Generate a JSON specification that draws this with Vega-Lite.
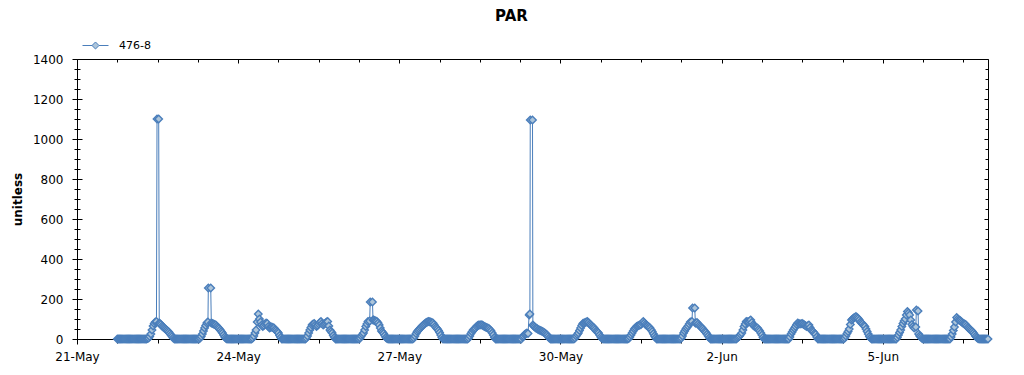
{
  "$schema": "https://vega.github.io/schema/vega-lite/v6.json",
  "width": 911,
  "height": 280,
  "autosize": {"type": "none"},
  "padding": {"left": 77, "top": 59, "right": 36, "bottom": 36},
  "background": "white",
  "title": {"text": "PAR", "font": "DejaVu Sans", "fontSize": 15, "fontWeight": "bold", "color": "#000000", "anchor": "middle", "dx": -21, "offset": 8},
  "config": {
    "view": {"stroke": null},
    "axis": {"labelFont": "DejaVu Sans", "labelFontSize": 12, "labelColor": "#000000", "domainColor": "#000000", "tickColor": "#000000", "grid": false, "titleFont": "DejaVu Sans", "titleColor": "#000000"}
  },
  "data": {"values": [
    {"t":"2023-05-21T18:00","v":0},{"t":"2023-05-21T18:30","v":0},{"t":"2023-05-21T19:00","v":0},{"t":"2023-05-21T19:30","v":0},{"t":"2023-05-21T20:00","v":0},{"t":"2023-05-21T20:30","v":0},{"t":"2023-05-21T21:00","v":0},{"t":"2023-05-21T21:30","v":0},{"t":"2023-05-21T22:00","v":0},{"t":"2023-05-21T22:30","v":0},{"t":"2023-05-21T23:00","v":0},{"t":"2023-05-21T23:30","v":0},
    {"t":"2023-05-22T00:00","v":0},{"t":"2023-05-22T00:30","v":0},{"t":"2023-05-22T01:00","v":0},{"t":"2023-05-22T01:30","v":0},{"t":"2023-05-22T02:00","v":0},{"t":"2023-05-22T02:30","v":0},{"t":"2023-05-22T03:00","v":0},{"t":"2023-05-22T03:30","v":0},{"t":"2023-05-22T04:00","v":0},{"t":"2023-05-22T04:30","v":0},{"t":"2023-05-22T05:00","v":0},{"t":"2023-05-22T05:30","v":0},{"t":"2023-05-22T06:00","v":0},{"t":"2023-05-22T06:30","v":0},{"t":"2023-05-22T07:00","v":0},
    {"t":"2023-05-22T07:30","v":2},{"t":"2023-05-22T08:00","v":5},{"t":"2023-05-22T08:30","v":12},{"t":"2023-05-22T09:00","v":25},{"t":"2023-05-22T09:30","v":45},{"t":"2023-05-22T10:00","v":65},{"t":"2023-05-22T10:30","v":78},{"t":"2023-05-22T11:00","v":85},{"t":"2023-05-22T11:30","v":88},{"t":"2023-05-22T11:45","v":1100},{"t":"2023-05-22T12:30","v":1100},{"t":"2023-05-22T12:45","v":80},{"t":"2023-05-22T13:00","v":78},{"t":"2023-05-22T13:30","v":72},{"t":"2023-05-22T14:00","v":65},{"t":"2023-05-22T14:30","v":60},{"t":"2023-05-22T15:00","v":55},{"t":"2023-05-22T15:30","v":50},{"t":"2023-05-22T16:00","v":45},{"t":"2023-05-22T16:30","v":40},{"t":"2023-05-22T17:00","v":35},{"t":"2023-05-22T17:30","v":28},{"t":"2023-05-22T18:00","v":20},{"t":"2023-05-22T18:30","v":12},{"t":"2023-05-22T19:00","v":5},
    {"t":"2023-05-22T19:30","v":0},{"t":"2023-05-22T20:00","v":0},{"t":"2023-05-22T20:30","v":0},{"t":"2023-05-22T21:00","v":0},{"t":"2023-05-22T21:30","v":0},{"t":"2023-05-22T22:00","v":0},{"t":"2023-05-22T22:30","v":0},{"t":"2023-05-22T23:00","v":0},{"t":"2023-05-22T23:30","v":0},
    {"t":"2023-05-23T00:00","v":0},{"t":"2023-05-23T00:30","v":0},{"t":"2023-05-23T01:00","v":0},{"t":"2023-05-23T01:30","v":0},{"t":"2023-05-23T02:00","v":0},{"t":"2023-05-23T02:30","v":0},{"t":"2023-05-23T03:00","v":0},{"t":"2023-05-23T03:30","v":0},{"t":"2023-05-23T04:00","v":0},{"t":"2023-05-23T04:30","v":0},{"t":"2023-05-23T05:00","v":0},{"t":"2023-05-23T05:30","v":0},{"t":"2023-05-23T06:00","v":0},{"t":"2023-05-23T06:30","v":0},
    {"t":"2023-05-23T07:00","v":5},{"t":"2023-05-23T07:30","v":12},{"t":"2023-05-23T08:00","v":25},{"t":"2023-05-23T08:30","v":40},{"t":"2023-05-23T09:00","v":55},{"t":"2023-05-23T09:30","v":68},{"t":"2023-05-23T10:00","v":80},{"t":"2023-05-23T10:30","v":85},{"t":"2023-05-23T10:40","v":255},{"t":"2023-05-23T11:45","v":255},{"t":"2023-05-23T12:00","v":80},{"t":"2023-05-23T12:30","v":78},{"t":"2023-05-23T13:00","v":75},{"t":"2023-05-23T13:30","v":72},{"t":"2023-05-23T14:00","v":70},{"t":"2023-05-23T14:30","v":64},{"t":"2023-05-23T15:00","v":58},{"t":"2023-05-23T15:30","v":52},{"t":"2023-05-23T16:00","v":45},{"t":"2023-05-23T16:30","v":38},{"t":"2023-05-23T17:00","v":30},{"t":"2023-05-23T17:30","v":20},{"t":"2023-05-23T18:00","v":10},{"t":"2023-05-23T18:30","v":4},
    {"t":"2023-05-23T19:00","v":0},{"t":"2023-05-23T19:30","v":0},{"t":"2023-05-23T20:00","v":0},{"t":"2023-05-23T20:30","v":0},{"t":"2023-05-23T21:00","v":0},{"t":"2023-05-23T21:30","v":0},{"t":"2023-05-23T22:00","v":0},{"t":"2023-05-23T22:30","v":0},{"t":"2023-05-23T23:00","v":0},{"t":"2023-05-23T23:30","v":0},
    {"t":"2023-05-24T00:00","v":0},{"t":"2023-05-24T00:30","v":0},{"t":"2023-05-24T01:00","v":0},{"t":"2023-05-24T01:30","v":0},{"t":"2023-05-24T02:00","v":0},{"t":"2023-05-24T02:30","v":0},{"t":"2023-05-24T03:00","v":0},{"t":"2023-05-24T03:30","v":0},{"t":"2023-05-24T04:00","v":0},{"t":"2023-05-24T04:30","v":0},{"t":"2023-05-24T05:00","v":0},{"t":"2023-05-24T05:30","v":0},{"t":"2023-05-24T06:00","v":0},
    {"t":"2023-05-24T06:30","v":5},{"t":"2023-05-24T07:00","v":15},{"t":"2023-05-24T07:30","v":30},{"t":"2023-05-24T08:00","v":45},{"t":"2023-05-24T08:30","v":85},{"t":"2023-05-24T09:00","v":125},{"t":"2023-05-24T09:30","v":100},{"t":"2023-05-24T10:00","v":85},{"t":"2023-05-24T10:30","v":70},{"t":"2023-05-24T11:00","v":62},{"t":"2023-05-24T11:30","v":68},{"t":"2023-05-24T12:00","v":75},{"t":"2023-05-24T12:30","v":80},{"t":"2023-05-24T13:00","v":78},{"t":"2023-05-24T13:30","v":62},{"t":"2023-05-24T14:00","v":55},{"t":"2023-05-24T14:30","v":58},{"t":"2023-05-24T15:00","v":60},{"t":"2023-05-24T15:30","v":58},{"t":"2023-05-24T16:00","v":55},{"t":"2023-05-24T16:30","v":48},{"t":"2023-05-24T17:00","v":42},{"t":"2023-05-24T17:30","v":36},{"t":"2023-05-24T18:00","v":30},{"t":"2023-05-24T18:30","v":18},{"t":"2023-05-24T19:00","v":8},
    {"t":"2023-05-24T19:30","v":0},{"t":"2023-05-24T20:00","v":0},{"t":"2023-05-24T20:30","v":0},{"t":"2023-05-24T21:00","v":0},{"t":"2023-05-24T21:30","v":0},{"t":"2023-05-24T22:00","v":0},{"t":"2023-05-24T22:30","v":0},{"t":"2023-05-24T23:00","v":0},{"t":"2023-05-24T23:30","v":0},
    {"t":"2023-05-25T00:00","v":0},{"t":"2023-05-25T00:30","v":0},{"t":"2023-05-25T01:00","v":0},{"t":"2023-05-25T01:30","v":0},{"t":"2023-05-25T02:00","v":0},{"t":"2023-05-25T02:30","v":0},{"t":"2023-05-25T03:00","v":0},{"t":"2023-05-25T03:30","v":0},{"t":"2023-05-25T04:00","v":0},{"t":"2023-05-25T04:30","v":0},{"t":"2023-05-25T05:00","v":0},{"t":"2023-05-25T05:30","v":0},{"t":"2023-05-25T06:00","v":0},
    {"t":"2023-05-25T06:30","v":5},{"t":"2023-05-25T07:00","v":15},{"t":"2023-05-25T07:30","v":30},{"t":"2023-05-25T08:00","v":45},{"t":"2023-05-25T08:30","v":58},{"t":"2023-05-25T09:00","v":70},{"t":"2023-05-25T09:30","v":75},{"t":"2023-05-25T10:00","v":78},{"t":"2023-05-25T10:30","v":70},{"t":"2023-05-25T11:00","v":62},{"t":"2023-05-25T11:30","v":68},{"t":"2023-05-25T12:00","v":75},{"t":"2023-05-25T12:30","v":82},{"t":"2023-05-25T13:00","v":87},{"t":"2023-05-25T13:30","v":78},{"t":"2023-05-25T14:00","v":70},{"t":"2023-05-25T14:30","v":75},{"t":"2023-05-25T15:00","v":80},{"t":"2023-05-25T15:30","v":85},{"t":"2023-05-25T16:00","v":87},{"t":"2023-05-25T16:30","v":65},{"t":"2023-05-25T17:00","v":45},{"t":"2023-05-25T17:30","v":38},{"t":"2023-05-25T18:00","v":30},{"t":"2023-05-25T18:30","v":18},{"t":"2023-05-25T19:00","v":8},
    {"t":"2023-05-25T19:30","v":0},{"t":"2023-05-25T20:00","v":0},{"t":"2023-05-25T20:30","v":0},{"t":"2023-05-25T21:00","v":0},{"t":"2023-05-25T21:30","v":0},{"t":"2023-05-25T22:00","v":0},{"t":"2023-05-25T22:30","v":0},{"t":"2023-05-25T23:00","v":0},{"t":"2023-05-25T23:30","v":0},
    {"t":"2023-05-26T00:00","v":0},{"t":"2023-05-26T00:30","v":0},{"t":"2023-05-26T01:00","v":0},{"t":"2023-05-26T01:30","v":0},{"t":"2023-05-26T02:00","v":0},{"t":"2023-05-26T02:30","v":0},{"t":"2023-05-26T03:00","v":0},{"t":"2023-05-26T03:30","v":0},{"t":"2023-05-26T04:00","v":0},{"t":"2023-05-26T04:30","v":0},{"t":"2023-05-26T05:00","v":0},{"t":"2023-05-26T05:30","v":0},{"t":"2023-05-26T06:00","v":0},
    {"t":"2023-05-26T06:30","v":5},{"t":"2023-05-26T07:00","v":15},{"t":"2023-05-26T07:30","v":22},{"t":"2023-05-26T08:00","v":30},{"t":"2023-05-26T08:30","v":45},{"t":"2023-05-26T09:00","v":62},{"t":"2023-05-26T09:30","v":75},{"t":"2023-05-26T10:00","v":87},{"t":"2023-05-26T10:45","v":90},{"t":"2023-05-26T11:00","v":185},{"t":"2023-05-26T12:00","v":185},{"t":"2023-05-26T12:15","v":95},{"t":"2023-05-26T12:30","v":95},{"t":"2023-05-26T13:00","v":92},{"t":"2023-05-26T13:30","v":90},{"t":"2023-05-26T14:00","v":87},{"t":"2023-05-26T14:30","v":80},{"t":"2023-05-26T15:00","v":70},{"t":"2023-05-26T15:30","v":55},{"t":"2023-05-26T16:00","v":40},{"t":"2023-05-26T16:30","v":34},{"t":"2023-05-26T17:00","v":28},{"t":"2023-05-26T17:30","v":18},{"t":"2023-05-26T18:00","v":8},{"t":"2023-05-26T18:30","v":3},
    {"t":"2023-05-26T19:00","v":0},{"t":"2023-05-26T19:30","v":0},{"t":"2023-05-26T20:00","v":0},{"t":"2023-05-26T20:30","v":0},{"t":"2023-05-26T21:00","v":0},{"t":"2023-05-26T21:30","v":0},{"t":"2023-05-26T22:00","v":0},{"t":"2023-05-26T22:30","v":0},{"t":"2023-05-26T23:00","v":0},{"t":"2023-05-26T23:30","v":0},
    {"t":"2023-05-27T00:00","v":0},{"t":"2023-05-27T00:30","v":0},{"t":"2023-05-27T01:00","v":0},{"t":"2023-05-27T01:30","v":0},{"t":"2023-05-27T02:00","v":0},{"t":"2023-05-27T02:30","v":0},{"t":"2023-05-27T03:00","v":0},{"t":"2023-05-27T03:30","v":0},{"t":"2023-05-27T04:00","v":0},{"t":"2023-05-27T04:30","v":0},{"t":"2023-05-27T05:00","v":0},{"t":"2023-05-27T05:30","v":0},{"t":"2023-05-27T06:00","v":0},
    {"t":"2023-05-27T06:30","v":5},{"t":"2023-05-27T07:00","v":15},{"t":"2023-05-27T07:30","v":28},{"t":"2023-05-27T08:00","v":38},{"t":"2023-05-27T08:30","v":44},{"t":"2023-05-27T09:00","v":50},{"t":"2023-05-27T09:30","v":56},{"t":"2023-05-27T10:00","v":62},{"t":"2023-05-27T10:30","v":68},{"t":"2023-05-27T11:00","v":72},{"t":"2023-05-27T11:30","v":78},{"t":"2023-05-27T12:00","v":82},{"t":"2023-05-27T12:30","v":85},{"t":"2023-05-27T13:00","v":87},{"t":"2023-05-27T13:30","v":86},{"t":"2023-05-27T14:00","v":85},{"t":"2023-05-27T14:30","v":83},{"t":"2023-05-27T15:00","v":80},{"t":"2023-05-27T15:30","v":72},{"t":"2023-05-27T16:00","v":62},{"t":"2023-05-27T16:30","v":56},{"t":"2023-05-27T17:00","v":50},{"t":"2023-05-27T17:30","v":42},{"t":"2023-05-27T18:00","v":32},{"t":"2023-05-27T18:30","v":20},{"t":"2023-05-27T19:00","v":8},
    {"t":"2023-05-27T19:30","v":0},{"t":"2023-05-27T20:00","v":0},{"t":"2023-05-27T20:30","v":0},{"t":"2023-05-27T21:00","v":0},{"t":"2023-05-27T21:30","v":0},{"t":"2023-05-27T22:00","v":0},{"t":"2023-05-27T22:30","v":0},{"t":"2023-05-27T23:00","v":0},{"t":"2023-05-27T23:30","v":0},
    {"t":"2023-05-28T00:00","v":0},{"t":"2023-05-28T00:30","v":0},{"t":"2023-05-28T01:00","v":0},{"t":"2023-05-28T01:30","v":0},{"t":"2023-05-28T02:00","v":0},{"t":"2023-05-28T02:30","v":0},{"t":"2023-05-28T03:00","v":0},{"t":"2023-05-28T03:30","v":0},{"t":"2023-05-28T04:00","v":0},{"t":"2023-05-28T04:30","v":0},{"t":"2023-05-28T05:00","v":0},{"t":"2023-05-28T05:30","v":0},{"t":"2023-05-28T06:00","v":0},{"t":"2023-05-28T06:30","v":0},
    {"t":"2023-05-28T07:00","v":5},{"t":"2023-05-28T07:30","v":15},{"t":"2023-05-28T08:00","v":28},{"t":"2023-05-28T08:30","v":36},{"t":"2023-05-28T09:00","v":45},{"t":"2023-05-28T09:30","v":50},{"t":"2023-05-28T10:00","v":55},{"t":"2023-05-28T10:30","v":62},{"t":"2023-05-28T11:00","v":68},{"t":"2023-05-28T11:30","v":70},{"t":"2023-05-28T12:00","v":70},{"t":"2023-05-28T12:30","v":71},{"t":"2023-05-28T13:00","v":70},{"t":"2023-05-28T13:30","v":66},{"t":"2023-05-28T14:00","v":62},{"t":"2023-05-28T14:30","v":60},{"t":"2023-05-28T15:00","v":58},{"t":"2023-05-28T15:30","v":55},{"t":"2023-05-28T16:00","v":52},{"t":"2023-05-28T16:30","v":46},{"t":"2023-05-28T17:00","v":40},{"t":"2023-05-28T17:30","v":30},{"t":"2023-05-28T18:00","v":20},{"t":"2023-05-28T18:30","v":8},
    {"t":"2023-05-28T19:00","v":0},{"t":"2023-05-28T19:30","v":0},{"t":"2023-05-28T20:00","v":0},{"t":"2023-05-28T20:30","v":0},{"t":"2023-05-28T21:00","v":0},{"t":"2023-05-28T21:30","v":0},{"t":"2023-05-28T22:00","v":0},{"t":"2023-05-28T22:30","v":0},{"t":"2023-05-28T23:00","v":0},{"t":"2023-05-28T23:30","v":0},
    {"t":"2023-05-29T00:00","v":0},{"t":"2023-05-29T00:30","v":0},{"t":"2023-05-29T01:00","v":0},{"t":"2023-05-29T01:30","v":0},{"t":"2023-05-29T02:00","v":0},{"t":"2023-05-29T02:30","v":0},{"t":"2023-05-29T03:00","v":0},{"t":"2023-05-29T03:30","v":0},{"t":"2023-05-29T04:00","v":0},{"t":"2023-05-29T04:30","v":0},{"t":"2023-05-29T05:00","v":0},{"t":"2023-05-29T05:30","v":0},{"t":"2023-05-29T06:00","v":0},{"t":"2023-05-29T06:30","v":0},
    {"t":"2023-05-29T07:00","v":10},{"t":"2023-05-29T07:30","v":15},{"t":"2023-05-29T08:00","v":22},{"t":"2023-05-29T08:30","v":26},{"t":"2023-05-29T09:00","v":30},{"t":"2023-05-29T09:30","v":28},{"t":"2023-05-29T10:00","v":120},{"t":"2023-05-29T10:20","v":125},{"t":"2023-05-29T10:30","v":1095},{"t":"2023-05-29T11:30","v":1095},{"t":"2023-05-29T11:40","v":70},{"t":"2023-05-29T12:00","v":65},{"t":"2023-05-29T12:30","v":60},{"t":"2023-05-29T13:00","v":55},{"t":"2023-05-29T13:30","v":52},{"t":"2023-05-29T14:00","v":48},{"t":"2023-05-29T14:30","v":45},{"t":"2023-05-29T15:00","v":42},{"t":"2023-05-29T15:30","v":40},{"t":"2023-05-29T16:00","v":37},{"t":"2023-05-29T16:30","v":34},{"t":"2023-05-29T17:00","v":30},{"t":"2023-05-29T17:30","v":25},{"t":"2023-05-29T18:00","v":20},{"t":"2023-05-29T18:30","v":12},{"t":"2023-05-29T19:00","v":5},
    {"t":"2023-05-29T19:30","v":0},{"t":"2023-05-29T20:00","v":0},{"t":"2023-05-29T20:30","v":0},{"t":"2023-05-29T21:00","v":0},{"t":"2023-05-29T21:30","v":0},{"t":"2023-05-29T22:00","v":0},{"t":"2023-05-29T22:30","v":0},{"t":"2023-05-29T23:00","v":0},{"t":"2023-05-29T23:30","v":0},
    {"t":"2023-05-30T00:00","v":0},{"t":"2023-05-30T00:30","v":0},{"t":"2023-05-30T01:00","v":0},{"t":"2023-05-30T01:30","v":0},{"t":"2023-05-30T02:00","v":0},{"t":"2023-05-30T02:30","v":0},{"t":"2023-05-30T03:00","v":0},{"t":"2023-05-30T03:30","v":0},{"t":"2023-05-30T04:00","v":0},{"t":"2023-05-30T04:30","v":0},{"t":"2023-05-30T05:00","v":0},{"t":"2023-05-30T05:30","v":0},{"t":"2023-05-30T06:00","v":0},
    {"t":"2023-05-30T06:30","v":5},{"t":"2023-05-30T07:00","v":15},{"t":"2023-05-30T07:30","v":22},{"t":"2023-05-30T08:00","v":30},{"t":"2023-05-30T08:30","v":42},{"t":"2023-05-30T09:00","v":55},{"t":"2023-05-30T09:30","v":68},{"t":"2023-05-30T10:00","v":78},{"t":"2023-05-30T10:30","v":80},{"t":"2023-05-30T11:00","v":82},{"t":"2023-05-30T11:30","v":85},{"t":"2023-05-30T12:00","v":87},{"t":"2023-05-30T12:30","v":82},{"t":"2023-05-30T13:00","v":75},{"t":"2023-05-30T13:30","v":70},{"t":"2023-05-30T14:00","v":65},{"t":"2023-05-30T14:30","v":60},{"t":"2023-05-30T15:00","v":55},{"t":"2023-05-30T15:30","v":48},{"t":"2023-05-30T16:00","v":40},{"t":"2023-05-30T16:30","v":35},{"t":"2023-05-30T17:00","v":30},{"t":"2023-05-30T17:30","v":20},{"t":"2023-05-30T18:00","v":10},{"t":"2023-05-30T18:30","v":4},
    {"t":"2023-05-30T19:00","v":0},{"t":"2023-05-30T19:30","v":0},{"t":"2023-05-30T20:00","v":0},{"t":"2023-05-30T20:30","v":0},{"t":"2023-05-30T21:00","v":0},{"t":"2023-05-30T21:30","v":0},{"t":"2023-05-30T22:00","v":0},{"t":"2023-05-30T22:30","v":0},{"t":"2023-05-30T23:00","v":0},{"t":"2023-05-30T23:30","v":0},
    {"t":"2023-05-31T00:00","v":0},{"t":"2023-05-31T00:30","v":0},{"t":"2023-05-31T01:00","v":0},{"t":"2023-05-31T01:30","v":0},{"t":"2023-05-31T02:00","v":0},{"t":"2023-05-31T02:30","v":0},{"t":"2023-05-31T03:00","v":0},{"t":"2023-05-31T03:30","v":0},{"t":"2023-05-31T04:00","v":0},{"t":"2023-05-31T04:30","v":0},{"t":"2023-05-31T05:00","v":0},{"t":"2023-05-31T05:30","v":0},{"t":"2023-05-31T06:00","v":0},
    {"t":"2023-05-31T06:30","v":3},{"t":"2023-05-31T07:00","v":10},{"t":"2023-05-31T07:30","v":20},{"t":"2023-05-31T08:00","v":30},{"t":"2023-05-31T08:30","v":40},{"t":"2023-05-31T09:00","v":50},{"t":"2023-05-31T09:30","v":56},{"t":"2023-05-31T10:00","v":62},{"t":"2023-05-31T10:30","v":65},{"t":"2023-05-31T11:00","v":68},{"t":"2023-05-31T11:30","v":70},{"t":"2023-05-31T12:00","v":72},{"t":"2023-05-31T12:30","v":80},{"t":"2023-05-31T13:00","v":87},{"t":"2023-05-31T13:30","v":80},{"t":"2023-05-31T14:00","v":72},{"t":"2023-05-31T14:30","v":68},{"t":"2023-05-31T15:00","v":65},{"t":"2023-05-31T15:30","v":60},{"t":"2023-05-31T16:00","v":55},{"t":"2023-05-31T16:30","v":46},{"t":"2023-05-31T17:00","v":38},{"t":"2023-05-31T17:30","v":26},{"t":"2023-05-31T18:00","v":15},{"t":"2023-05-31T18:30","v":6},
    {"t":"2023-05-31T19:00","v":0},{"t":"2023-05-31T19:30","v":0},{"t":"2023-05-31T20:00","v":0},{"t":"2023-05-31T20:30","v":0},{"t":"2023-05-31T21:00","v":0},{"t":"2023-05-31T21:30","v":0},{"t":"2023-05-31T22:00","v":0},{"t":"2023-05-31T22:30","v":0},{"t":"2023-05-31T23:00","v":0},{"t":"2023-05-31T23:30","v":0},
    {"t":"2023-06-01T00:00","v":0},{"t":"2023-06-01T00:30","v":0},{"t":"2023-06-01T01:00","v":0},{"t":"2023-06-01T01:30","v":0},{"t":"2023-06-01T02:00","v":0},{"t":"2023-06-01T02:30","v":0},{"t":"2023-06-01T03:00","v":0},{"t":"2023-06-01T03:30","v":0},{"t":"2023-06-01T04:00","v":0},{"t":"2023-06-01T04:30","v":0},{"t":"2023-06-01T05:00","v":0},{"t":"2023-06-01T05:30","v":0},
    {"t":"2023-06-01T06:00","v":5},{"t":"2023-06-01T06:30","v":15},{"t":"2023-06-01T07:00","v":30},{"t":"2023-06-01T07:30","v":40},{"t":"2023-06-01T08:00","v":50},{"t":"2023-06-01T08:30","v":58},{"t":"2023-06-01T09:00","v":65},{"t":"2023-06-01T09:30","v":75},{"t":"2023-06-01T10:00","v":85},{"t":"2023-06-01T10:45","v":88},{"t":"2023-06-01T11:00","v":155},{"t":"2023-06-01T12:00","v":155},{"t":"2023-06-01T12:15","v":80},{"t":"2023-06-01T12:30","v":80},{"t":"2023-06-01T13:00","v":82},{"t":"2023-06-01T13:30","v":75},{"t":"2023-06-01T14:00","v":68},{"t":"2023-06-01T14:30","v":62},{"t":"2023-06-01T15:00","v":58},{"t":"2023-06-01T15:30","v":52},{"t":"2023-06-01T16:00","v":45},{"t":"2023-06-01T16:30","v":38},{"t":"2023-06-01T17:00","v":32},{"t":"2023-06-01T17:30","v":24},{"t":"2023-06-01T18:00","v":15},{"t":"2023-06-01T18:30","v":6},
    {"t":"2023-06-01T19:00","v":0},{"t":"2023-06-01T19:30","v":0},{"t":"2023-06-01T20:00","v":0},{"t":"2023-06-01T20:30","v":0},{"t":"2023-06-01T21:00","v":0},{"t":"2023-06-01T21:30","v":0},{"t":"2023-06-01T22:00","v":0},{"t":"2023-06-01T22:30","v":0},{"t":"2023-06-01T23:00","v":0},{"t":"2023-06-01T23:30","v":0},
    {"t":"2023-06-02T00:00","v":0},{"t":"2023-06-02T00:30","v":0},{"t":"2023-06-02T01:00","v":0},{"t":"2023-06-02T01:30","v":0},{"t":"2023-06-02T02:00","v":0},{"t":"2023-06-02T02:30","v":0},{"t":"2023-06-02T03:00","v":0},{"t":"2023-06-02T03:30","v":0},{"t":"2023-06-02T04:00","v":0},{"t":"2023-06-02T04:30","v":0},{"t":"2023-06-02T05:00","v":0},{"t":"2023-06-02T05:30","v":0},{"t":"2023-06-02T06:00","v":0},{"t":"2023-06-02T06:30","v":0},
    {"t":"2023-06-02T07:00","v":5},{"t":"2023-06-02T07:30","v":10},{"t":"2023-06-02T08:00","v":15},{"t":"2023-06-02T08:30","v":22},{"t":"2023-06-02T09:00","v":30},{"t":"2023-06-02T09:30","v":45},{"t":"2023-06-02T10:00","v":62},{"t":"2023-06-02T10:30","v":75},{"t":"2023-06-02T11:00","v":87},{"t":"2023-06-02T11:30","v":86},{"t":"2023-06-02T12:00","v":85},{"t":"2023-06-02T12:30","v":90},{"t":"2023-06-02T13:00","v":95},{"t":"2023-06-02T13:30","v":82},{"t":"2023-06-02T14:00","v":70},{"t":"2023-06-02T14:30","v":65},{"t":"2023-06-02T15:00","v":60},{"t":"2023-06-02T15:30","v":58},{"t":"2023-06-02T16:00","v":55},{"t":"2023-06-02T16:30","v":48},{"t":"2023-06-02T17:00","v":40},{"t":"2023-06-02T17:30","v":30},{"t":"2023-06-02T18:00","v":20},{"t":"2023-06-02T18:30","v":8},
    {"t":"2023-06-02T19:00","v":0},{"t":"2023-06-02T19:30","v":0},{"t":"2023-06-02T20:00","v":0},{"t":"2023-06-02T20:30","v":0},{"t":"2023-06-02T21:00","v":0},{"t":"2023-06-02T21:30","v":0},{"t":"2023-06-02T22:00","v":0},{"t":"2023-06-02T22:30","v":0},{"t":"2023-06-02T23:00","v":0},{"t":"2023-06-02T23:30","v":0},
    {"t":"2023-06-03T00:00","v":0},{"t":"2023-06-03T00:30","v":0},{"t":"2023-06-03T01:00","v":0},{"t":"2023-06-03T01:30","v":0},{"t":"2023-06-03T02:00","v":0},{"t":"2023-06-03T02:30","v":0},{"t":"2023-06-03T03:00","v":0},{"t":"2023-06-03T03:30","v":0},{"t":"2023-06-03T04:00","v":0},{"t":"2023-06-03T04:30","v":0},{"t":"2023-06-03T05:00","v":0},{"t":"2023-06-03T05:30","v":0},{"t":"2023-06-03T06:00","v":0},
    {"t":"2023-06-03T06:30","v":10},{"t":"2023-06-03T07:00","v":25},{"t":"2023-06-03T07:30","v":35},{"t":"2023-06-03T08:00","v":45},{"t":"2023-06-03T08:30","v":54},{"t":"2023-06-03T09:00","v":62},{"t":"2023-06-03T09:30","v":72},{"t":"2023-06-03T10:00","v":80},{"t":"2023-06-03T10:30","v":78},{"t":"2023-06-03T11:00","v":75},{"t":"2023-06-03T11:30","v":76},{"t":"2023-06-03T12:00","v":78},{"t":"2023-06-03T12:30","v":74},{"t":"2023-06-03T13:00","v":70},{"t":"2023-06-03T13:30","v":66},{"t":"2023-06-03T14:00","v":62},{"t":"2023-06-03T14:30","v":66},{"t":"2023-06-03T15:00","v":70},{"t":"2023-06-03T15:30","v":58},{"t":"2023-06-03T16:00","v":45},{"t":"2023-06-03T16:30","v":40},{"t":"2023-06-03T17:00","v":35},{"t":"2023-06-03T17:30","v":28},{"t":"2023-06-03T18:00","v":22},{"t":"2023-06-03T18:30","v":10},
    {"t":"2023-06-03T19:00","v":0},{"t":"2023-06-03T19:30","v":0},{"t":"2023-06-03T20:00","v":0},{"t":"2023-06-03T20:30","v":0},{"t":"2023-06-03T21:00","v":0},{"t":"2023-06-03T21:30","v":0},{"t":"2023-06-03T22:00","v":0},{"t":"2023-06-03T22:30","v":0},{"t":"2023-06-03T23:00","v":0},{"t":"2023-06-03T23:30","v":0},
    {"t":"2023-06-04T00:00","v":0},{"t":"2023-06-04T00:30","v":0},{"t":"2023-06-04T01:00","v":0},{"t":"2023-06-04T01:30","v":0},{"t":"2023-06-04T02:00","v":0},{"t":"2023-06-04T02:30","v":0},{"t":"2023-06-04T03:00","v":0},{"t":"2023-06-04T03:30","v":0},{"t":"2023-06-04T04:00","v":0},{"t":"2023-06-04T04:30","v":0},{"t":"2023-06-04T05:00","v":0},{"t":"2023-06-04T05:30","v":0},{"t":"2023-06-04T06:00","v":0},{"t":"2023-06-04T06:30","v":0},
    {"t":"2023-06-04T07:00","v":5},{"t":"2023-06-04T07:30","v":15},{"t":"2023-06-04T08:00","v":28},{"t":"2023-06-04T08:30","v":38},{"t":"2023-06-04T09:00","v":50},{"t":"2023-06-04T09:30","v":72},{"t":"2023-06-04T10:00","v":95},{"t":"2023-06-04T10:30","v":100},{"t":"2023-06-04T11:00","v":105},{"t":"2023-06-04T11:30","v":108},{"t":"2023-06-04T12:00","v":112},{"t":"2023-06-04T12:30","v":108},{"t":"2023-06-04T13:00","v":103},{"t":"2023-06-04T13:30","v":95},{"t":"2023-06-04T14:00","v":85},{"t":"2023-06-04T14:30","v":80},{"t":"2023-06-04T15:00","v":75},{"t":"2023-06-04T15:30","v":68},{"t":"2023-06-04T16:00","v":62},{"t":"2023-06-04T16:30","v":50},{"t":"2023-06-04T17:00","v":37},{"t":"2023-06-04T17:30","v":25},{"t":"2023-06-04T18:00","v":12},{"t":"2023-06-04T18:30","v":5},
    {"t":"2023-06-04T19:00","v":0},{"t":"2023-06-04T19:30","v":0},{"t":"2023-06-04T20:00","v":0},{"t":"2023-06-04T20:30","v":0},{"t":"2023-06-04T21:00","v":0},{"t":"2023-06-04T21:30","v":0},{"t":"2023-06-04T22:00","v":0},{"t":"2023-06-04T22:30","v":0},{"t":"2023-06-04T23:00","v":0},{"t":"2023-06-04T23:30","v":0},
    {"t":"2023-06-05T00:00","v":0},{"t":"2023-06-05T00:30","v":0},{"t":"2023-06-05T01:00","v":0},{"t":"2023-06-05T01:30","v":0},{"t":"2023-06-05T02:00","v":0},{"t":"2023-06-05T02:30","v":0},{"t":"2023-06-05T03:00","v":0},{"t":"2023-06-05T03:30","v":0},{"t":"2023-06-05T04:00","v":0},{"t":"2023-06-05T04:30","v":0},{"t":"2023-06-05T05:00","v":0},{"t":"2023-06-05T05:30","v":0},{"t":"2023-06-05T06:00","v":0},
    {"t":"2023-06-05T06:30","v":8},{"t":"2023-06-05T07:00","v":20},{"t":"2023-06-05T07:30","v":32},{"t":"2023-06-05T08:00","v":45},{"t":"2023-06-05T08:30","v":62},{"t":"2023-06-05T09:00","v":78},{"t":"2023-06-05T09:30","v":90},{"t":"2023-06-05T10:00","v":100},{"t":"2023-06-05T10:30","v":120},{"t":"2023-06-05T11:00","v":137},{"t":"2023-06-05T11:30","v":130},{"t":"2023-06-05T12:00","v":120},{"t":"2023-06-05T12:30","v":95},{"t":"2023-06-05T13:00","v":72},{"t":"2023-06-05T13:30","v":62},{"t":"2023-06-05T14:00","v":55},{"t":"2023-06-05T14:45","v":60},{"t":"2023-06-05T15:00","v":145},{"t":"2023-06-05T15:45","v":140},{"t":"2023-06-05T16:00","v":25},{"t":"2023-06-05T16:30","v":15},{"t":"2023-06-05T17:00","v":10},{"t":"2023-06-05T17:30","v":4},
    {"t":"2023-06-05T18:00","v":0},{"t":"2023-06-05T18:30","v":0},{"t":"2023-06-05T19:00","v":0},{"t":"2023-06-05T19:30","v":0},{"t":"2023-06-05T20:00","v":0},{"t":"2023-06-05T20:30","v":0},{"t":"2023-06-05T21:00","v":0},{"t":"2023-06-05T21:30","v":0},{"t":"2023-06-05T22:00","v":0},{"t":"2023-06-05T22:30","v":0},{"t":"2023-06-05T23:00","v":0},{"t":"2023-06-05T23:30","v":0},
    {"t":"2023-06-06T00:00","v":0},{"t":"2023-06-06T00:30","v":0},{"t":"2023-06-06T01:00","v":0},{"t":"2023-06-06T01:30","v":0},{"t":"2023-06-06T02:00","v":0},{"t":"2023-06-06T02:30","v":0},{"t":"2023-06-06T03:00","v":0},{"t":"2023-06-06T03:30","v":0},{"t":"2023-06-06T04:00","v":0},{"t":"2023-06-06T04:30","v":0},{"t":"2023-06-06T05:00","v":0},{"t":"2023-06-06T05:30","v":0},{"t":"2023-06-06T06:00","v":0},
    {"t":"2023-06-06T06:30","v":10},{"t":"2023-06-06T07:00","v":25},{"t":"2023-06-06T07:30","v":42},{"t":"2023-06-06T08:00","v":60},{"t":"2023-06-06T08:30","v":85},{"t":"2023-06-06T09:00","v":108},{"t":"2023-06-06T09:30","v":100},{"t":"2023-06-06T10:00","v":95},{"t":"2023-06-06T10:30","v":92},{"t":"2023-06-06T11:00","v":88},{"t":"2023-06-06T11:30","v":82},{"t":"2023-06-06T12:00","v":78},{"t":"2023-06-06T12:30","v":75},{"t":"2023-06-06T13:00","v":72},{"t":"2023-06-06T13:30","v":65},{"t":"2023-06-06T14:00","v":58},{"t":"2023-06-06T14:30","v":53},{"t":"2023-06-06T15:00","v":48},{"t":"2023-06-06T15:30","v":43},{"t":"2023-06-06T16:00","v":38},{"t":"2023-06-06T16:30","v":30},{"t":"2023-06-06T17:00","v":22},{"t":"2023-06-06T17:30","v":14},{"t":"2023-06-06T18:00","v":8},{"t":"2023-06-06T18:30","v":3},
    {"t":"2023-06-06T19:00","v":0},{"t":"2023-06-06T19:30","v":0},{"t":"2023-06-06T20:00","v":0},{"t":"2023-06-06T20:30","v":0},{"t":"2023-06-06T21:00","v":0},{"t":"2023-06-06T21:30","v":0},{"t":"2023-06-06T22:00","v":0},{"t":"2023-06-06T22:30","v":0},{"t":"2023-06-06T23:00","v":0}
  ]},
  "resolve": {"axis": {"x": "independent", "y": "independent"}},
  "layer": [
    {
      "mark": {"type": "line", "strokeWidth": 1},
      "encoding": {
        "x": {"field": "t", "type": "temporal",
          "scale": {"domain": [{"year": 2023, "month": 5, "date": 21}, {"year": 2023, "month": 6, "date": 6, "hours": 23}], "nice": false},
          "axis": {"orient": "bottom", "title": null,
            "values": [{"year":2023,"month":5,"date":21,"hours":0},{"year":2023,"month":5,"date":21,"hours":18},{"year":2023,"month":5,"date":22,"hours":12},{"year":2023,"month":5,"date":23,"hours":6},{"year":2023,"month":5,"date":24,"hours":0},{"year":2023,"month":5,"date":24,"hours":18},{"year":2023,"month":5,"date":25,"hours":12},{"year":2023,"month":5,"date":26,"hours":6},{"year":2023,"month":5,"date":27,"hours":0},{"year":2023,"month":5,"date":27,"hours":18},{"year":2023,"month":5,"date":28,"hours":12},{"year":2023,"month":5,"date":29,"hours":6},{"year":2023,"month":5,"date":30,"hours":0},{"year":2023,"month":5,"date":30,"hours":18},{"year":2023,"month":5,"date":31,"hours":12},{"year":2023,"month":6,"date":1,"hours":6},{"year":2023,"month":6,"date":2,"hours":0},{"year":2023,"month":6,"date":2,"hours":18},{"year":2023,"month":6,"date":3,"hours":12},{"year":2023,"month":6,"date":4,"hours":6},{"year":2023,"month":6,"date":5,"hours":0},{"year":2023,"month":6,"date":5,"hours":18},{"year":2023,"month":6,"date":6,"hours":12}],
            "labelExpr": "hours(datum.value) === 0 ? timeFormat(datum.value, '%-d-%b') : ''",
            "labelOverlap": false, "labelFlush": false, "labelPadding": 7,
            "tickSize": {"condition": {"test": "hours(datum.value) === 0", "value": 5}, "value": 4}
          }},
        "y": {"field": "v", "type": "quantitative",
          "scale": {"domain": [0, 1400], "nice": false},
          "axis": {"orient": "left", "title": "unitless", "titleFontSize": 12, "titleFontWeight": "bold", "titlePadding": 8,
            "values": [0,50,100,150,200,250,300,350,400,450,500,550,600,650,700,750,800,850,900,950,1000,1050,1100,1150,1200,1250,1300,1350,1400],
            "format": "d",
            "labelExpr": "datum.value % 200 === 0 ? datum.label : ''",
            "labelOverlap": false, "labelFlush": false, "labelPadding": 9,
            "tickSize": {"condition": {"test": "datum.value % 200 === 0", "value": 5}, "value": 3}
          }},
        "stroke": {"datum": "476-8", "type": "nominal",
          "scale": {"range": ["#4a7ebb"]},
          "legend": {"title": null, "orient": "none", "legendX": 5, "legendY": -27,
            "symbolType": "M-1,0L-0.27,0M0.27,0L1,0M0,-0.27L0.27,0L0,0.27L-0.27,0Z",
            "symbolSize": 676, "symbolStrokeWidth": 1, "symbolFillColor": "#adc5da", "symbolStrokeColor": "#4a7ebb",
            "labelFont": "DejaVu Sans", "labelFontSize": 11, "labelColor": "#000000", "labelOffset": 10}}
      }
    },
    {
      "mark": {"type": "point", "shape": "diamond", "size": 56, "filled": true, "fill": "#adc5da", "stroke": "#4a7ebb", "strokeWidth": 1.4, "opacity": 1},
      "encoding": {
        "x": {"field": "t", "type": "temporal", "axis": null},
        "y": {"field": "v", "type": "quantitative", "axis": null}
      }
    },
    {
      "mark": {"type": "point", "opacity": 0},
      "encoding": {
        "x": {"field": "t", "type": "temporal",
          "axis": {"orient": "top", "title": null, "labels": false,
            "values": [{"year":2023,"month":5,"date":21,"hours":0},{"year":2023,"month":5,"date":21,"hours":18},{"year":2023,"month":5,"date":22,"hours":12},{"year":2023,"month":5,"date":23,"hours":6},{"year":2023,"month":5,"date":24,"hours":0},{"year":2023,"month":5,"date":24,"hours":18},{"year":2023,"month":5,"date":25,"hours":12},{"year":2023,"month":5,"date":26,"hours":6},{"year":2023,"month":5,"date":27,"hours":0},{"year":2023,"month":5,"date":27,"hours":18},{"year":2023,"month":5,"date":28,"hours":12},{"year":2023,"month":5,"date":29,"hours":6},{"year":2023,"month":5,"date":30,"hours":0},{"year":2023,"month":5,"date":30,"hours":18},{"year":2023,"month":5,"date":31,"hours":12},{"year":2023,"month":6,"date":1,"hours":6},{"year":2023,"month":6,"date":2,"hours":0},{"year":2023,"month":6,"date":2,"hours":18},{"year":2023,"month":6,"date":3,"hours":12},{"year":2023,"month":6,"date":4,"hours":6},{"year":2023,"month":6,"date":5,"hours":0},{"year":2023,"month":6,"date":5,"hours":18},{"year":2023,"month":6,"date":6,"hours":12}],
            "tickSize": {"condition": {"test": "hours(datum.value) === 0", "value": -4}, "value": -3}
          }},
        "y": {"field": "v", "type": "quantitative",
          "axis": {"orient": "right", "title": null, "labels": false,
            "values": [0,50,100,150,200,250,300,350,400,450,500,550,600,650,700,750,800,850,900,950,1000,1050,1100,1150,1200,1250,1300,1350,1400],
            "tickSize": {"condition": {"test": "datum.value % 200 === 0", "value": -4}, "value": -3}
          }}
      }
    },
    {
      "mark": {"type": "point", "opacity": 0},
      "encoding": {
        "x": {"field": "t", "type": "temporal",
          "axis": {"orient": "bottom", "title": null, "labels": false, "domain": false,
            "values": [{"year":2023,"month":5,"date":21,"hours":0},{"year":2023,"month":5,"date":24,"hours":0},{"year":2023,"month":5,"date":27,"hours":0},{"year":2023,"month":5,"date":30,"hours":0},{"year":2023,"month":6,"date":2,"hours":0},{"year":2023,"month":6,"date":5,"hours":0}],
            "tickSize": -5
          }},
        "y": {"field": "v", "type": "quantitative",
          "axis": {"orient": "left", "title": null, "labels": false, "domain": false,
            "values": [0,50,100,150,200,250,300,350,400,450,500,550,600,650,700,750,800,850,900,950,1000,1050,1100,1150,1200,1250,1300,1350,1400],
            "tickSize": {"condition": {"test": "datum.value % 200 === 0", "value": -5}, "value": -3}
          }}
      }
    }
  ]
}
